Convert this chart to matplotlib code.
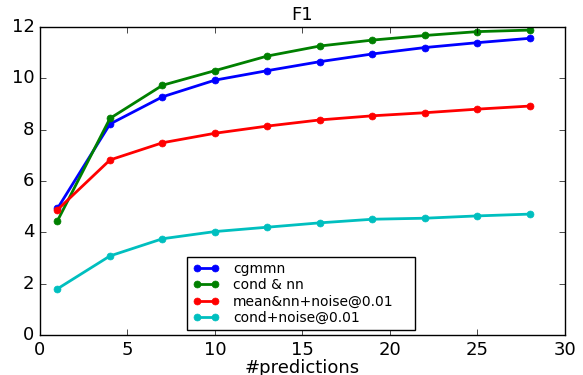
import matplotlib
matplotlib.use('Agg')
import matplotlib.pyplot as plt

# dati
x = [1, 4, 7, 10, 13, 16, 19, 22, 25, 28]
cgmmn = [4.93, 8.22, 9.28, 9.93, 10.30, 10.65, 10.95, 11.20, 11.39, 11.56]
cond_nn = [4.45, 8.44, 9.73, 10.30, 10.87, 11.26, 11.49, 11.67, 11.82, 11.88]
mean_nn_noise = [4.88, 6.82, 7.49, 7.86, 8.14, 8.38, 8.54, 8.66, 8.80, 8.92]
cond_noise = [1.80, 3.08, 3.75, 4.03, 4.20, 4.37, 4.51, 4.55, 4.64, 4.71]
labels = ['cgmmn', 'cond & nn', 'mean&nn+noise@0.01', 'cond+noise@0.01']

plt.style.use('classic')
fig = plt.figure(figsize=(5.83, 3.75), dpi=100)
ax = fig.add_axes([0.0686, 0.1067, 0.9005, 0.8213])

ax.plot(x, cgmmn, 'b-o', lw=2, ms=5, mec='b', label=labels[0])
ax.plot(x, cond_nn, 'g-o', lw=2, ms=5, mec='g', label=labels[1])
ax.plot(x, mean_nn_noise, 'r-o', lw=2, ms=5, mec='r', label=labels[2])
ax.plot(x, cond_noise, 'c-o', lw=2, ms=5, mec='c', label=labels[3])

ax.set_xlim(0, 30)
ax.set_ylim(0, 12)
ax.tick_params(labelsize=13)
ax.set_title('F1', fontsize=13)
ax.set_xlabel('#predictions', fontsize=13, labelpad=0)

ax.legend(loc='lower left', bbox_to_anchor=(0.28, 0.016, 0.434, 0.231),
          mode='expand', fontsize=10, numpoints=2, borderaxespad=0,
          handlelength=1.9, handletextpad=1.0, labelspacing=0.15)

fig.savefig('out.png', dpi=100)
